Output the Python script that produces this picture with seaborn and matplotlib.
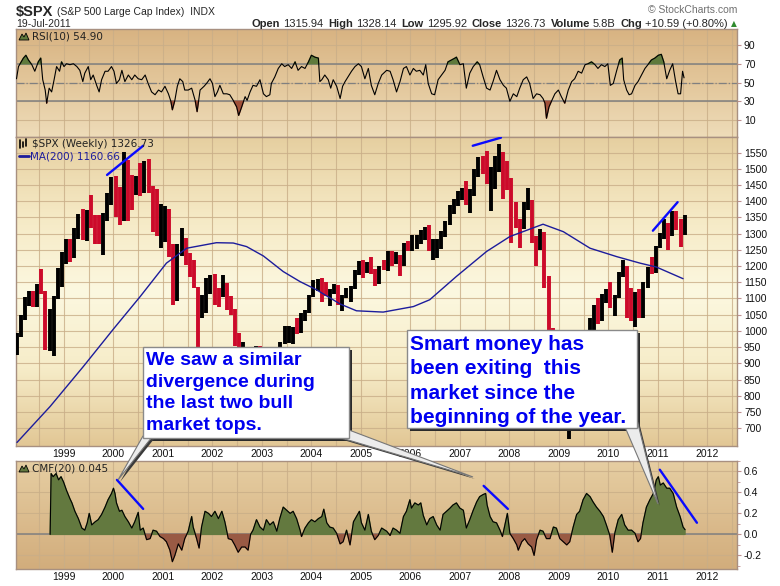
import numpy as np
import matplotlib
matplotlib.use('Agg')
import matplotlib.pyplot as plt
import seaborn as sns
from matplotlib.colors import LinearSegmentedColormap
from matplotlib.patches import Rectangle, Polygon
from matplotlib.lines import Line2D

# ---- S&P 500 monthly bars (high / low / close), Jan 1998 .. Jul 2011 ----
spx_close = [
    980, 1049, 1102, 1112, 1091, 1134, 1121, 957, 1017, 1099, 1164, 1229,
    1280, 1238, 1286, 1335, 1302, 1373, 1329, 1320, 1283, 1363, 1389, 1469,
    1394, 1366, 1499, 1452, 1421, 1455, 1431, 1518, 1437, 1429, 1315, 1320,
    1366, 1240, 1160, 1249, 1256, 1224, 1211, 1134, 1041, 1060, 1139, 1148,
    1130, 1107, 1147, 1077, 1067, 990, 912, 916, 815, 886, 936, 880,
    856, 841, 848, 917, 964, 975, 990, 1008, 996, 1051, 1058, 1112,
    1131, 1145, 1126, 1107, 1121, 1141, 1102, 1104, 1115, 1130, 1174, 1212,
    1181, 1204, 1181, 1157, 1192, 1191, 1234, 1220, 1229, 1207, 1249, 1248,
    1280, 1281, 1295, 1311, 1270, 1270, 1277, 1304, 1336, 1378, 1401, 1418,
    1438, 1407, 1421, 1482, 1531, 1503, 1455, 1474, 1527, 1549, 1481, 1468,
    1379, 1331, 1323, 1386, 1400, 1280, 1267, 1283, 1166, 969, 896, 903,
    826, 735, 798, 873, 919, 919, 987, 1021, 1057, 1036, 1096, 1115,
    1074, 1104, 1169, 1187, 1089, 1031, 1102, 1049, 1141, 1183, 1181, 1258,
    1286, 1327, 1326, 1364, 1345, 1321, 1327]
spx_high = [
    992, 1050, 1106, 1123, 1122, 1145, 1190, 1122, 1066, 1107, 1193, 1244,
    1282, 1284, 1317, 1362, 1375, 1374, 1419, 1357, 1357, 1364, 1424, 1474,
    1479, 1444, 1553, 1527, 1481, 1477, 1517, 1525, 1531, 1448, 1439, 1391,
    1384, 1377, 1267, 1269, 1316, 1287, 1240, 1220, 1135, 1110, 1163, 1173,
    1176, 1131, 1173, 1147, 1107, 1069, 994, 966, 925, 907, 952, 954,
    935, 860, 895, 924, 965, 1015, 1016, 1011, 1040, 1054, 1063, 1112,
    1156, 1159, 1164, 1150, 1128, 1146, 1141, 1111, 1131, 1140, 1188, 1217,
    1218, 1212, 1229, 1192, 1199, 1219, 1246, 1245, 1243, 1233, 1270, 1276,
    1295, 1297, 1310, 1319, 1326, 1284, 1282, 1308, 1340, 1389, 1407, 1431,
    1441, 1461, 1438, 1499, 1535, 1540, 1556, 1504, 1539, 1576, 1552, 1524,
    1472, 1396, 1344, 1397, 1440, 1405, 1293, 1313, 1304, 1168, 1008, 919,
    943, 877, 832, 888, 930, 956, 996, 1040, 1081, 1102, 1113, 1130,
    1151, 1112, 1181, 1220, 1200, 1131, 1120, 1129, 1151, 1196, 1227, 1263,
    1303, 1344, 1333, 1371, 1371, 1346, 1357]
spx_low = [
    927, 980, 1033, 1076, 1074, 1074, 1114, 940, 939, 923, 1098, 1136,
    1205, 1212, 1226, 1282, 1281, 1277, 1317, 1268, 1269, 1233, 1339, 1388,
    1350, 1326, 1339, 1339, 1374, 1418, 1416, 1424, 1424, 1305, 1294, 1255,
    1274, 1228, 1081, 1091, 1232, 1204, 1165, 1132, 944, 1040, 1054, 1114,
    1081, 1075, 1104, 1064, 1049, 953, 776, 833, 800, 768, 867, 872,
    840, 806, 789, 847, 902, 960, 962, 960, 990, 995, 1031, 1055,
    1106, 1122, 1088, 1107, 1076, 1113, 1079, 1060, 1102, 1090, 1128, 1173,
    1164, 1180, 1176, 1137, 1146, 1188, 1184, 1201, 1206, 1168, 1201, 1246,
    1245, 1253, 1268, 1280, 1245, 1219, 1224, 1253, 1290, 1326, 1360, 1385,
    1403, 1389, 1364, 1416, 1476, 1484, 1454, 1371, 1439, 1490, 1406, 1435,
    1271, 1317, 1257, 1314, 1373, 1272, 1200, 1248, 1133, 840, 741, 815,
    805, 735, 667, 783, 866, 889, 869, 978, 992, 1020, 1029, 1085,
    1071, 1045, 1102, 1165, 1040, 1029, 1011, 1040, 1040, 1131, 1174, 1179,
    1257, 1282, 1249, 1294, 1312, 1258, 1296]

# ---- 200-week moving average ----
ma_year = [1998.05, 1998.72, 1999.39, 2000.00, 2000.54, 2001.07, 2001.48, 2002.08,
           2002.42, 2002.69, 2003.03, 2003.43, 2003.77, 2004.10, 2004.58, 2004.91,
           2005.45, 2006.06, 2006.39, 2006.93, 2007.54, 2008.01, 2008.68, 2009.09,
           2009.63, 2010.17, 2010.64, 2010.97, 2011.51]
ma_value = [656, 767, 890, 1006, 1106, 1209, 1255, 1272, 1271, 1260, 1231, 1183,
            1152, 1127, 1083, 1062, 1058, 1075, 1096, 1168, 1245, 1291, 1329, 1306,
            1255, 1229, 1209, 1197, 1161]

# ---- RSI(10) ----
rsi_year = [
    1998.04, 1998.08, 1998.18, 1998.23, 1998.28, 1998.35, 1998.41, 1998.48, 1998.53, 1998.57,
    1998.62, 1998.65, 1998.70, 1998.75, 1998.80, 1998.85, 1998.91, 1998.95, 1999.00, 1999.05,
    1999.12, 1999.19, 1999.26, 1999.32, 1999.38, 1999.42, 1999.49, 1999.54, 1999.59, 1999.66,
    1999.71, 1999.76, 1999.83, 1999.89, 1999.96, 2000.01, 2000.06, 2000.12, 2000.17, 2000.23,
    2000.30, 2000.37, 2000.43, 2000.50, 2000.57, 2000.64, 2000.70, 2000.77, 2000.84, 2000.91,
    2000.97, 2001.04, 2001.11, 2001.16, 2001.19, 2001.24, 2001.29, 2001.34, 2001.40, 2001.44,
    2001.51, 2001.58, 2001.65, 2001.69, 2001.75, 2001.83, 2001.88, 2001.95, 2002.00, 2002.05,
    2002.10, 2002.15, 2002.22, 2002.29, 2002.35, 2002.42, 2002.49, 2002.53, 2002.59, 2002.66,
    2002.70, 2002.76, 2002.82, 2002.89, 2002.96, 2003.03, 2003.09, 2003.16, 2003.19, 2003.26,
    2003.33, 2003.40, 2003.46, 2003.53, 2003.60, 2003.67, 2003.73, 2003.80, 2003.87, 2003.94,
    2004.00, 2004.07, 2004.14, 2004.17, 2004.21, 2004.27, 2004.34, 2004.39, 2004.44, 2004.51,
    2004.58, 2004.63, 2004.68, 2004.74, 2004.81, 2004.88, 2004.95, 2005.01, 2005.08, 2005.15,
    2005.21, 2005.28, 2005.35, 2005.42, 2005.52,
    2005.59, 2005.65, 2005.72, 2005.79, 2005.86, 2005.92, 2005.99, 2006.06, 2006.12, 2006.19,
    2006.26, 2006.31, 2006.36, 2006.43, 2006.49, 2006.56, 2006.63, 2006.70, 2006.76, 2006.83,
    2006.90, 2006.93, 2007.00, 2007.07, 2007.13, 2007.20, 2007.27, 2007.35, 2007.40, 2007.47,
    2007.54, 2007.61, 2007.67, 2007.74, 2007.81, 2007.88, 2007.94, 2008.01, 2008.08, 2008.15,
    2008.21, 2008.28, 2008.35, 2008.41, 2008.48, 2008.55, 2008.62, 2008.68, 2008.72, 2008.75,
    2008.80, 2008.85, 2008.92, 2008.99, 2009.05, 2009.12, 2009.19, 2009.26, 2009.32, 2009.39,
    2009.46, 2009.53, 2009.59, 2009.66, 2009.73, 2009.79, 2009.86, 2009.93, 2009.99, 2010.04,
    2010.10, 2010.17, 2010.23, 2010.28, 2010.31, 2010.37, 2010.42, 2010.47, 2010.54, 2010.60,
    2010.67, 2010.74, 2010.80, 2010.87, 2010.94, 2011.01, 2011.07, 2011.12, 2011.18, 2011.24,
    2011.30, 2011.36, 2011.41, 2011.46, 2011.50, 2011.53]
rsi_value = [
    54, 67, 76, 79, 74, 69, 62, 72, 76, 53,
    42, 28, 44, 40, 53, 67, 62, 72, 67, 70,
    69, 70, 67, 63, 51, 60, 67, 53, 58, 47,
    40, 53, 62, 62, 67, 62, 49, 53, 63, 51,
    58, 53, 58, 54, 53, 58, 49, 40, 37, 42,
    40, 46, 38, 30, 21, 31, 46, 54, 51, 42,
    42, 44, 31, 19, 42, 46, 49, 54, 49, 35,
    40, 47, 38, 38, 37, 31, 24, 15, 24, 35,
    31, 40, 47, 46, 53, 38, 35, 37, 49, 56,
    65, 70, 67, 69, 65, 72, 63, 67, 65, 72,
    79, 77, 76, 51, 53, 58, 53, 44, 53, 46,
    33, 46, 51, 56, 62, 67, 70, 67, 54, 65,
    47, 37, 49, 58, 63,
    62, 53, 40, 51, 65, 67, 58, 65, 62, 63,
    58, 69, 49, 38, 37, 53, 58, 63, 72, 74,
    76, 77, 69, 70, 44, 60, 67, 72, 69, 56,
    44, 42, 51, 63, 53, 47, 44, 30, 38, 35,
    44, 53, 56, 49, 33, 38, 37, 33, 28, 12,
    24, 30, 38, 42, 35, 28, 42, 51, 54, 62,
    60, 69, 70, 72, 69, 65, 69, 67, 70, 47,
    49, 63, 74, 76, 53, 42, 37, 38, 47, 51,
    58, 65, 69, 74, 76, 79, 80, 72, 54, 63,
    70, 51, 38, 38, 62, 55]

# ---- CMF(20) ----
cmf_year = [
    1998.72, 1998.74, 1998.78, 1998.84, 1998.89, 1998.94, 1998.99, 1999.05, 1999.12, 1999.16,
    1999.22, 1999.29, 1999.36, 1999.42, 1999.47, 1999.51, 1999.56, 1999.63, 1999.69, 1999.76,
    1999.83, 1999.89, 1999.96, 2000.00, 2000.03, 2000.06, 2000.12, 2000.17, 2000.23, 2000.30,
    2000.37, 2000.43, 2000.50, 2000.54, 2000.60, 2000.67, 2000.74, 2000.80, 2000.87, 2000.94,
    2001.01, 2001.07, 2001.14, 2001.19, 2001.24, 2001.31, 2001.38, 2001.44, 2001.51, 2001.58,
    2001.61, 2001.68, 2001.73, 2001.78, 2001.85, 2001.92, 2001.98, 2002.05, 2002.12, 2002.19,
    2002.25, 2002.32, 2002.39, 2002.45, 2002.52, 2002.59, 2002.66, 2002.72, 2002.77, 2002.82,
    2002.89, 2002.96, 2003.03, 2003.09, 2003.16, 2003.23, 2003.30, 2003.36, 2003.43, 2003.50,
    2003.57, 2003.63, 2003.70, 2003.77, 2003.80, 2003.87, 2003.94, 2004.00, 2004.07, 2004.14,
    2004.21, 2004.25, 2004.31, 2004.37, 2004.44, 2004.51, 2004.58, 2004.64, 2004.71, 2004.78,
    2004.85, 2004.91, 2004.97, 2005.01, 2005.08, 2005.15, 2005.21, 2005.28, 2005.35, 2005.42,
    2005.52,
    2005.59, 2005.65, 2005.72, 2005.79, 2005.86, 2005.92, 2005.99, 2006.02, 2006.09, 2006.16,
    2006.21, 2006.26, 2006.33, 2006.39, 2006.46, 2006.53, 2006.60, 2006.66, 2006.73, 2006.80,
    2006.86, 2006.93, 2007.00, 2007.07, 2007.13, 2007.20, 2007.27, 2007.34, 2007.40, 2007.47,
    2007.52, 2007.55, 2007.61, 2007.67, 2007.74, 2007.81, 2007.86, 2007.91, 2007.96, 2008.01,
    2008.08, 2008.15, 2008.18, 2008.25, 2008.31, 2008.38, 2008.45, 2008.50, 2008.55, 2008.62,
    2008.68, 2008.75, 2008.82, 2008.89, 2008.95, 2009.02, 2009.09, 2009.16, 2009.22, 2009.29,
    2009.36, 2009.42, 2009.49, 2009.56, 2009.63, 2009.69, 2009.76, 2009.83, 2009.90, 2009.96,
    2010.03, 2010.08, 2010.13, 2010.20, 2010.27, 2010.33, 2010.40, 2010.47, 2010.54, 2010.60,
    2010.65, 2010.70, 2010.77, 2010.84, 2010.91, 2010.97, 2011.01, 2011.05, 2011.11, 2011.18,
    2011.24, 2011.31, 2011.38, 2011.45, 2011.51, 2011.55]
cmf_value = [
    0.00, 0.58, 0.55, 0.58, 0.52, 0.55, 0.50, 0.42, 0.34, 0.30,
    0.22, 0.15, 0.06, 0.04, 0.11, 0.20, 0.09, 0.12, 0.14, 0.19,
    0.26, 0.33, 0.39, 0.44, 0.39, 0.30, 0.22, 0.23, 0.17, 0.12,
    0.06, 0.12, 0.21, 0.04, 0.06, -0.05, -0.04, 0.04, 0.03, -0.02,
    -0.04, -0.07, -0.15, -0.26, -0.20, -0.09, -0.15, -0.04, 0.03, 0.17,
    0.07, -0.04, -0.13, 0.07, 0.22, 0.20, 0.17, 0.22, 0.15, 0.22,
    0.12, -0.04, -0.05, -0.10, -0.17, -0.12, -0.12, -0.15, 0.00, 0.04,
    0.14, 0.07, 0.04, 0.14, 0.09, 0.12, 0.03, 0.15, 0.26, 0.23,
    0.20, 0.22, 0.15, 0.04, -0.02, 0.06, 0.11, 0.14, 0.12, 0.15,
    0.17, 0.24, 0.11, 0.07, 0.06, 0.01, -0.09, -0.07, 0.04, -0.10,
    0.12, 0.17, 0.22, 0.11, 0.04, 0.19, 0.03, -0.05, -0.01, 0.06,
    0.03,
    -0.01, 0.06, 0.04, 0.01, 0.17, 0.22, 0.33, 0.25, 0.30, 0.28,
    0.30, 0.18, 0.09, 0.15, 0.17, 0.09, 0.04, 0.19, 0.22, 0.25,
    0.28, 0.30, 0.25, 0.23, 0.06, 0.14, 0.23, 0.31, 0.36, 0.38,
    0.39, 0.28, 0.17, 0.12, 0.11, 0.04, -0.02, 0.09, 0.20, 0.01,
    -0.04, -0.10, -0.15, -0.07, -0.04, -0.09, -0.12, -0.20, -0.05, 0.04,
    0.03, -0.04, -0.04, 0.07, 0.06, -0.04, -0.07, -0.10, -0.07, 0.07,
    0.19, 0.22, 0.33, 0.39, 0.36, 0.31, 0.26, 0.22, 0.17, 0.09,
    -0.01, -0.17, 0.01, 0.14, 0.19, 0.09, 0.04, 0.04, 0.01, -0.07,
    -0.04, 0.11, 0.26, 0.33, 0.39, 0.52, 0.55, 0.47, 0.49, 0.44,
    0.44, 0.39, 0.26, 0.17, 0.07, 0.045]

# hand-drawn divergence lines (year, value) pairs
price_trend = [[(1999.87, 1481), (2000.60, 1571)],
               [(2007.26, 1571), (2007.83, 1596)],
               [(2010.90, 1309), (2011.40, 1397)]]
cmf_trend = [[(2000.07, 0.52), (2000.60, 0.243)],
             [(2007.48, 0.463), (2007.97, 0.243)],
             [(2011.04, 0.617), (2011.79, 0.111)]]

years = list(range(1999, 2013))

sns.set_style('white')
plt.rcParams['font.family'] = ['Liberation Sans', 'DejaVu Sans']

W, H = 780, 586
fig = plt.figure(figsize=(W / 100, H / 100), dpi=100)
fig.patch.set_facecolor('white')


def fx(x):
    return x / W


def fy(y):
    return 1 - y / H


def px_axes(left, top, right, bottom):
    return fig.add_axes([fx(left), fy(bottom), (right - left) / W, (bottom - top) / H])


def gradient_bg(ax, colors):
    cmap = LinearSegmentedColormap.from_list('bg', colors)
    ax.imshow(np.linspace(0, 1, 256).reshape(-1, 1), extent=[0, 1, 0, 1],
              transform=ax.transAxes, cmap=cmap, aspect='auto', origin='lower', zorder=0)


SPINE = '#a89080'
GRID = '#c9ae88'
XLIM = (1998.03, 2012.6)


def style_axes(ax, yticks, ylim, xlabels):
    ax.set_xlim(*XLIM)
    ax.set_ylim(*ylim)
    ax.set_xticks(years)
    ax.set_xticks([y + 0.5 for y in range(1998, 2013)], minor=True)
    ax.set_yticks(yticks)
    ax.grid(True, which='both', axis='x', color=GRID, lw=0.8, alpha=0.8, zorder=1)
    ax.grid(True, which='major', axis='y', color=GRID, lw=0.8, alpha=0.8, zorder=1)
    ax.set_axisbelow(True)
    ax.tick_params(axis='y', left=False, right=True, labelleft=False, labelright=True,
                   length=3, color='#c09090', labelsize=7.5, pad=2, labelcolor='#111111')
    ax.tick_params(axis='x', which='both', length=0, labelsize=7.5, pad=2,
                   labelbottom=xlabels, labelcolor='#111111')
    for s in ax.spines.values():
        s.set_color(SPINE)
        s.set_linewidth(1.0)
    ax.set_xlabel('')
    ax.set_ylabel('')


ax_rsi = px_axes(16, 29, 737, 137)
ax_px = px_axes(16, 137, 737, 446)
ax_cmf = px_axes(16, 461, 737, 569)

# ---------------- RSI panel ----------------
gradient_bg(ax_rsi, ['#eedcb9', '#e3c79b', '#d8b382'])
rx = np.array(rsi_year)
rv = np.array(rsi_value, dtype=float)
ax_rsi.axhline(70, color='#808080', lw=1.1, zorder=2)
ax_rsi.axhline(30, color='#808080', lw=1.1, zorder=2)
ax_rsi.axhline(50, color='#808080', lw=0.9, ls='-.', zorder=2)
ax_rsi.fill_between(rx, 70, rv, where=rv > 70, interpolate=True, color='#5f7a3c', zorder=3)
ax_rsi.fill_between(rx, 30, rv, where=rv < 30, interpolate=True, color='#a0503a', zorder=3)
sns.lineplot(x=rx, y=rv, ax=ax_rsi, color='black', lw=0.8, zorder=4)
style_axes(ax_rsi, [10, 30, 50, 70, 90], (-8, 107), False)

# ---------------- Price panel ----------------
gradient_bg(ax_px, ['#e2c795', '#f6ecc8', '#fcf8e0', '#f5e9c4', '#e6cfa0'])
n = len(spx_close)
bar_x = 1998 + (np.arange(n) + 0.5) / 12
bar_col = ['black' if i == 0 or spx_close[i] >= spx_close[i - 1] else '#cc0a2a'
           for i in range(n)]
ax_px.vlines(bar_x, spx_low, spx_high, colors=bar_col, lw=2.8, zorder=4)
sns.lineplot(x=ma_year, y=ma_value, ax=ax_px, color='#1c1c9c', lw=1.0, zorder=5)
for seg in price_trend:
    ax_px.plot([p[0] for p in seg], [p[1] for p in seg], color='#0a0aff', lw=1.7, zorder=6)
style_axes(ax_px, list(range(700, 1551, 50)), (645, 1598), True)

# ---------------- CMF panel ----------------
gradient_bg(ax_cmf, ['#d2ad7c', '#dcbd8f', '#e6cea2'])
cx = np.array(cmf_year)
cv = np.array(cmf_value)
ax_cmf.axhline(0, color='#808080', lw=1.1, zorder=2)
ax_cmf.fill_between(cx, 0, cv, where=cv >= 0, interpolate=True, color='#63793f', zorder=3)
ax_cmf.fill_between(cx, 0, cv, where=cv <= 0, interpolate=True, color='#995a44', zorder=3)
sns.lineplot(x=cx, y=cv, ax=ax_cmf, color='black', lw=0.8, zorder=4)
for seg in cmf_trend:
    ax_cmf.plot([p[0] for p in seg], [p[1] for p in seg], color='#0a0aff', lw=1.7, zorder=6)
style_axes(ax_cmf, [-0.2, 0.0, 0.2, 0.4, 0.6], (-0.33, 0.70), True)
ax_cmf.set_yticklabels(['-0.2', '0.0', '0.2', '0.4', '0.6'])
ax_cmf.set_yticks(np.arange(-0.3, 0.71, 0.1), minor=True)
ax_cmf.tick_params(axis='y', which='minor', left=False, right=True, length=2, color='#c09090')

# ---------------- header texts ----------------
renderer = fig.canvas.get_renderer()


def ftext(x, y, s, **kw):
    return fig.text(fx(x), fy(y), s, **kw)


t = ftext(16, 12, '$SPX', fontsize=10.5, fontweight='bold', va='center', ha='left')
w = t.get_window_extent(renderer).width
ftext(16 + w + 4, 12, '(S&P 500 Large Cap Index)  INDX', fontsize=7.5, va='center', ha='left')
ftext(16, 24, '19-Jul-2011', fontsize=7.5, va='center', ha='left')
ftext(737, 10, '\u00a9 StockCharts.com', fontsize=7.5, color='#707070', va='center', ha='right')

pieces = [('Open', 'bold', 3), ('1315.94', 'normal', 5), ('High', 'bold', 3), ('1328.14', 'normal', 5),
          ('Low', 'bold', 3), ('1295.92', 'normal', 5), ('Close', 'bold', 3), ('1326.73', 'normal', 5),
          ('Volume', 'bold', 3), ('5.8B', 'normal', 5), ('Chg', 'bold', 3), ('+10.59 (+0.80%)', 'normal', 3)]
widths = []
for s, wt, gap in pieces:
    tt = fig.text(0, 0, s, fontsize=8, fontweight=wt)
    widths.append(tt.get_window_extent(renderer).width)
    tt.remove()
xpos = 731 - sum(widths) - sum(p[2] for p in pieces)
for (s, wt, gap), wd in zip(pieces, widths):
    ftext(xpos, 24, s, fontsize=8, fontweight=wt, va='center', ha='left')
    xpos += wd + gap
ftext(xpos, 24, '\u25b2', fontsize=5.5, color='#2e8b2e', va='center', ha='left',
      family=['DejaVu Sans'])

# ---------------- panel legends ----------------
fig.add_artist(Polygon([(fx(19), fy(40)), (fx(22), fy(34)), (fx(24), fy(37)), (fx(26), fy(33)),
                        (fx(29), fy(40))], closed=True, transform=fig.transFigure,
                       facecolor='#5f7a3c', edgecolor='black', lw=0.6, zorder=10))
ftext(32, 36.5, 'RSI(10) 54.90', fontsize=7.5, family=['DejaVu Sans'], va='center', ha='left',
      color='#222222')
for i, (a, b) in enumerate([(140, 148), (142, 147), (139, 146)]):
    fig.add_artist(Line2D([fx(20 + 3 * i), fx(20 + 3 * i)], [fy(b), fy(a)], color='black', lw=1.2,
                          transform=fig.transFigure, zorder=10))
ftext(32, 144.5, '$SPX (Weekly) 1326.73', fontsize=7.5, family=['DejaVu Sans'], va='center',
      ha='left', color='#222222')
fig.add_artist(Line2D([fx(19), fx(29)], [fy(156), fy(156)], color='#1c1c9c', lw=2,
                      transform=fig.transFigure, zorder=10))
ftext(30, 156.5, 'MA(200) 1160.66', fontsize=7.5, family=['DejaVu Sans'], va='center',
      ha='left', color='#1c1c9c')
fig.add_artist(Polygon([(fx(19), fy(472)), (fx(22), fy(466)), (fx(24), fy(469)), (fx(26), fy(465)),
                        (fx(29), fy(472))], closed=True, transform=fig.transFigure,
                       facecolor='#63793f', edgecolor='black', lw=0.6, zorder=10))
ftext(32, 468.5, 'CMF(20) 0.045', fontsize=7.5, family=['DejaVu Sans'], va='center', ha='left',
      color='#222222')


# ---------------- callouts ----------------
def callout(box, pointers, text, size, spacing):
    x0, y0, x1, y1 = box
    fig.add_artist(Rectangle((fx(x0 + 3), fy(y1 + 3)), (x1 - x0) / W, (y1 - y0) / H,
                             transform=fig.transFigure, facecolor='#2a2a2a', edgecolor='none',
                             zorder=20))
    for pts in pointers:
        sh = [(fx(px + 2), fy(py + 2)) for px, py in pts]
        fig.add_artist(Polygon(sh, closed=True, transform=fig.transFigure,
                               facecolor='#3a3a3a', edgecolor='none', zorder=21))
        fig.add_artist(Polygon([(fx(px), fy(py)) for px, py in pts], closed=True,
                               transform=fig.transFigure, facecolor='#ececec',
                               edgecolor='#777777', lw=0.8, zorder=22))
    fig.add_artist(Rectangle((fx(x0), fy(y1)), (x1 - x0) / W, (y1 - y0) / H,
                             transform=fig.transFigure, facecolor='white', edgecolor='#8a8a8a',
                             lw=1.0, zorder=23))
    ftext(x0 + 3, y0 + 5, text, fontsize=size, fontweight='bold', color='#0000f0',
          va='top', ha='left', linespacing=spacing, zorder=24)


callout((143, 347, 349, 438),
        [[(143, 436), (152, 437), (118, 480)], [(338, 437), (349, 430), (473, 477)]],
        'We saw a similar\ndivergence during\nthe last two bull\nmarket tops.', 14, 1.36)
callout((407, 330, 637, 428),
        [[(625, 427), (637, 420), (658, 504)]],
        'Smart money has\nbeen exiting  this\nmarket since the\nbeginning of the year.', 15, 1.36)

fig.savefig('out.png', dpi=100)
